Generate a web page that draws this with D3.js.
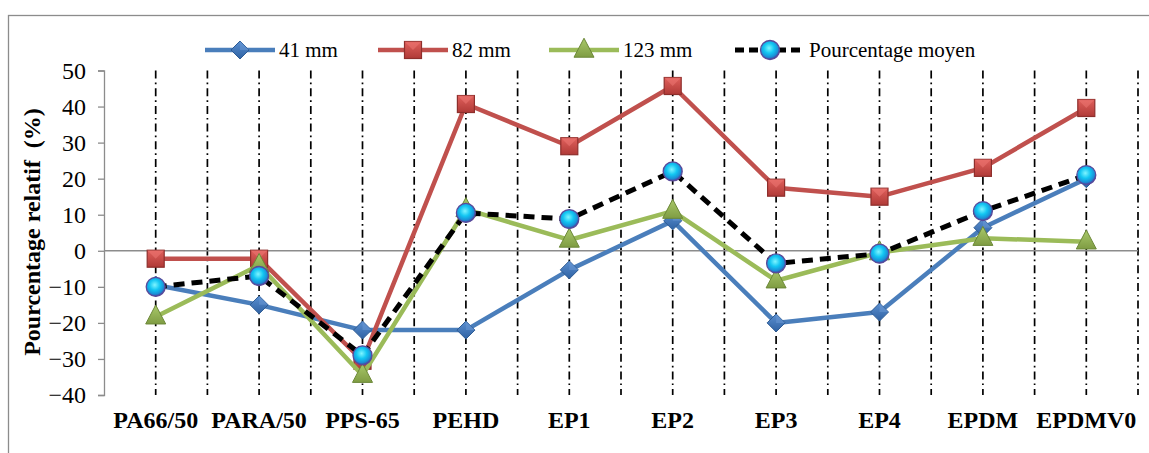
<!DOCTYPE html>
<html><head><meta charset="utf-8">
<script src="https://cdn.jsdelivr.net/npm/d3@7"></script>
<style>
html,body{margin:0;padding:0;background:#fff;}
svg{display:block;}
text{font-family:"Liberation Serif","Times New Roman",serif;fill:#000;}
</style></head>
<body>
<svg id="chart" width="1149" height="453"></svg>
<script>
const categories = ["PA66/50","PARA/50","PPS-65","PEHD","EP1","EP2","EP3","EP4","EPDM","EPDMV0"];
const s41  = [-9.5,-15,-22,-22,-5.3,8.3,-20,-17,6.4,20];
const s82  = [-2.2,-2.2,-30.5,40.7,29,45.7,17.5,15,23,39.6];
const s123 = [-18.3,-4,-34.5,11.5,3,11,-8.3,-0.5,3.5,2.5];
const sMean = [-10,-7,-29,10.5,8.8,22,-3.5,-0.8,11,21];
const yTicks = [-40,-30,-20,-10,0,10,20,30,40,50];
const seriesNames = ["41 mm","82 mm","123 mm","Pourcentage moyen"];

const svg = d3.select("#chart");
const defs = svg.append("defs");

const gCirc = defs.append("radialGradient").attr("id","gCirc").attr("cx","45%").attr("cy","40%").attr("r","60%");
gCirc.append("stop").attr("offset","0%").attr("stop-color","#7ff4ff");
gCirc.append("stop").attr("offset","45%").attr("stop-color","#12c6f2");
gCirc.append("stop").attr("offset","80%").attr("stop-color","#1a8fd6");
gCirc.append("stop").attr("offset","100%").attr("stop-color","#4a3f9c");
const gSq = defs.append("linearGradient").attr("id","gSq").attr("x1","0").attr("y1","0").attr("x2","0").attr("y2","1");
gSq.append("stop").attr("offset","0%").attr("stop-color","#e0605c");
gSq.append("stop").attr("offset","100%").attr("stop-color","#b03a37");
const gTri = defs.append("linearGradient").attr("id","gTri").attr("x1","0").attr("y1","0").attr("x2","0").attr("y2","1");
gTri.append("stop").attr("offset","0%").attr("stop-color","#a9c96a");
gTri.append("stop").attr("offset","100%").attr("stop-color","#7f9c43");
const gDia = defs.append("linearGradient").attr("id","gDia").attr("x1","0").attr("y1","0").attr("x2","0").attr("y2","1");
gDia.append("stop").attr("offset","0%").attr("stop-color","#5b8fd0");
gDia.append("stop").attr("offset","100%").attr("stop-color","#2f62a3");

svg.append("rect").attr("x",8.5).attr("y",15.5).attr("width",1160).attr("height",470)
  .attr("fill","none").attr("stroke","#8c8c8c").attr("stroke-width",1.3);

const x = d3.scaleBand().domain(categories).range([104,1138]).padding(0);
const y = d3.scaleLinear().domain([-40,50]).range([395,70.5]);
const cx = d => x(d) + x.bandwidth()/2;

const vlines = [];
categories.forEach((c,i)=>{ vlines.push(cx(c)); vlines.push(x(c)+x.bandwidth()); });
svg.append("g").selectAll("line").data(vlines).join("line")
  .attr("x1",d=>d).attr("x2",d=>d).attr("y1",y(50)).attr("y2",y(-40))
  .attr("stroke","#000").attr("stroke-width",1.7).attr("stroke-dasharray","8,4,1.7,4");

const yAxis = d3.axisLeft(y).tickValues(yTicks).tickSize(6).tickPadding(12).tickFormat(d3.format("d"));
const ga = svg.append("g").attr("transform","translate(104,0)").call(yAxis);
ga.select(".domain").attr("stroke","#8c8c8c").attr("stroke-width",1.3);
ga.selectAll(".tick line").attr("stroke","#8c8c8c").attr("stroke-width",1.3);
ga.selectAll(".tick text").attr("font-size",24).attr("font-family","Liberation Serif").attr("fill","#000");

svg.append("line").attr("x1",104).attr("x2",1138).attr("y1",y(0)).attr("y2",y(0))
  .attr("stroke","#8c8c8c").attr("stroke-width",1.5);

svg.append("g").selectAll("text").data(categories).join("text")
  .attr("x",d=>cx(d)).attr("y",428).attr("text-anchor","middle")
  .attr("font-size",24).attr("font-weight","bold").text(d=>d);

svg.append("text").attr("transform","translate(40,232) rotate(-90)")
  .attr("text-anchor","middle").attr("font-size",24).attr("font-weight","bold")
  .style("white-space","pre").text("Pourcentage relatif  (%)");

function drawMarker(g, type, px, py){
  if(type===0){
    const r=9;
    g.append("path").attr("d",`M${px},${py-r}L${px+r},${py}L${px},${py+r}L${px-r},${py}Z`)
      .attr("fill","url(#gDia)").attr("stroke","#2d5b94").attr("stroke-width",1);
    g.append("path").attr("d",`M${px},${py-r}L${px+r},${py}L${px},${py}Z`).attr("fill","#6b9ad6").attr("opacity",0.5);
  } else if(type===1){
    const h=8.5;
    g.append("rect").attr("x",px-h).attr("y",py-h).attr("width",2*h).attr("height",2*h)
      .attr("fill","url(#gSq)").attr("stroke","#8e2f2c").attr("stroke-width",1.2);
    g.append("path").attr("d",`M${px-h},${py-h}L${px},${py}L${px+h},${py-h}Z`).attr("fill","#f07a76").attr("opacity",0.5);
  } else if(type===2){
    const w=10, ht=19;
    g.append("path").attr("d",`M${px},${py-ht*0.62}L${px+w},${py+ht*0.38}L${px-w},${py+ht*0.38}Z`)
      .attr("fill","url(#gTri)").attr("stroke","#6c8838").attr("stroke-width",1);
  } else {
    g.append("circle").attr("cx",px).attr("cy",py).attr("r",9.5)
      .attr("fill","url(#gCirc)").attr("stroke","#5a4a9a").attr("stroke-width",1.3);
  }
}

const allSeries = [s41,s82,s123,sMean];
const colors = ["#4a7ebb","#c0504d","#9bbb59","#000"];
const line = d3.line().x((d,i)=>cx(categories[i])).y(d=>y(d));
allSeries.forEach((s,k)=>{
  const g = svg.append("g");
  g.append("path").datum(s).attr("d",line).attr("fill","none")
    .attr("stroke",colors[k]).attr("stroke-width",k===3?5:4.5)
    .attr("stroke-linejoin","round")
    .attr("stroke-dasharray",k===3?"11,7":null);
  s.forEach((v,i)=>drawMarker(g,k,cx(categories[i]),y(v)));
});

const legX = [205,378,549,735];
const lg = svg.append("g");
seriesNames.forEach((n,k)=>{
  const x0 = legX[k], yy = 50;
  lg.append("line").attr("x1",x0).attr("x2",x0+70).attr("y1",yy).attr("y2",yy)
    .attr("stroke",colors[k]).attr("stroke-width",k===3?5:4.5)
    .attr("stroke-dasharray",k===3?"9,5":null);
  drawMarker(lg,k,x0+35,yy);
  lg.append("text").attr("x",x0+74).attr("y",yy+7).attr("font-size",21).text(n);
});
</script>
</body></html>
